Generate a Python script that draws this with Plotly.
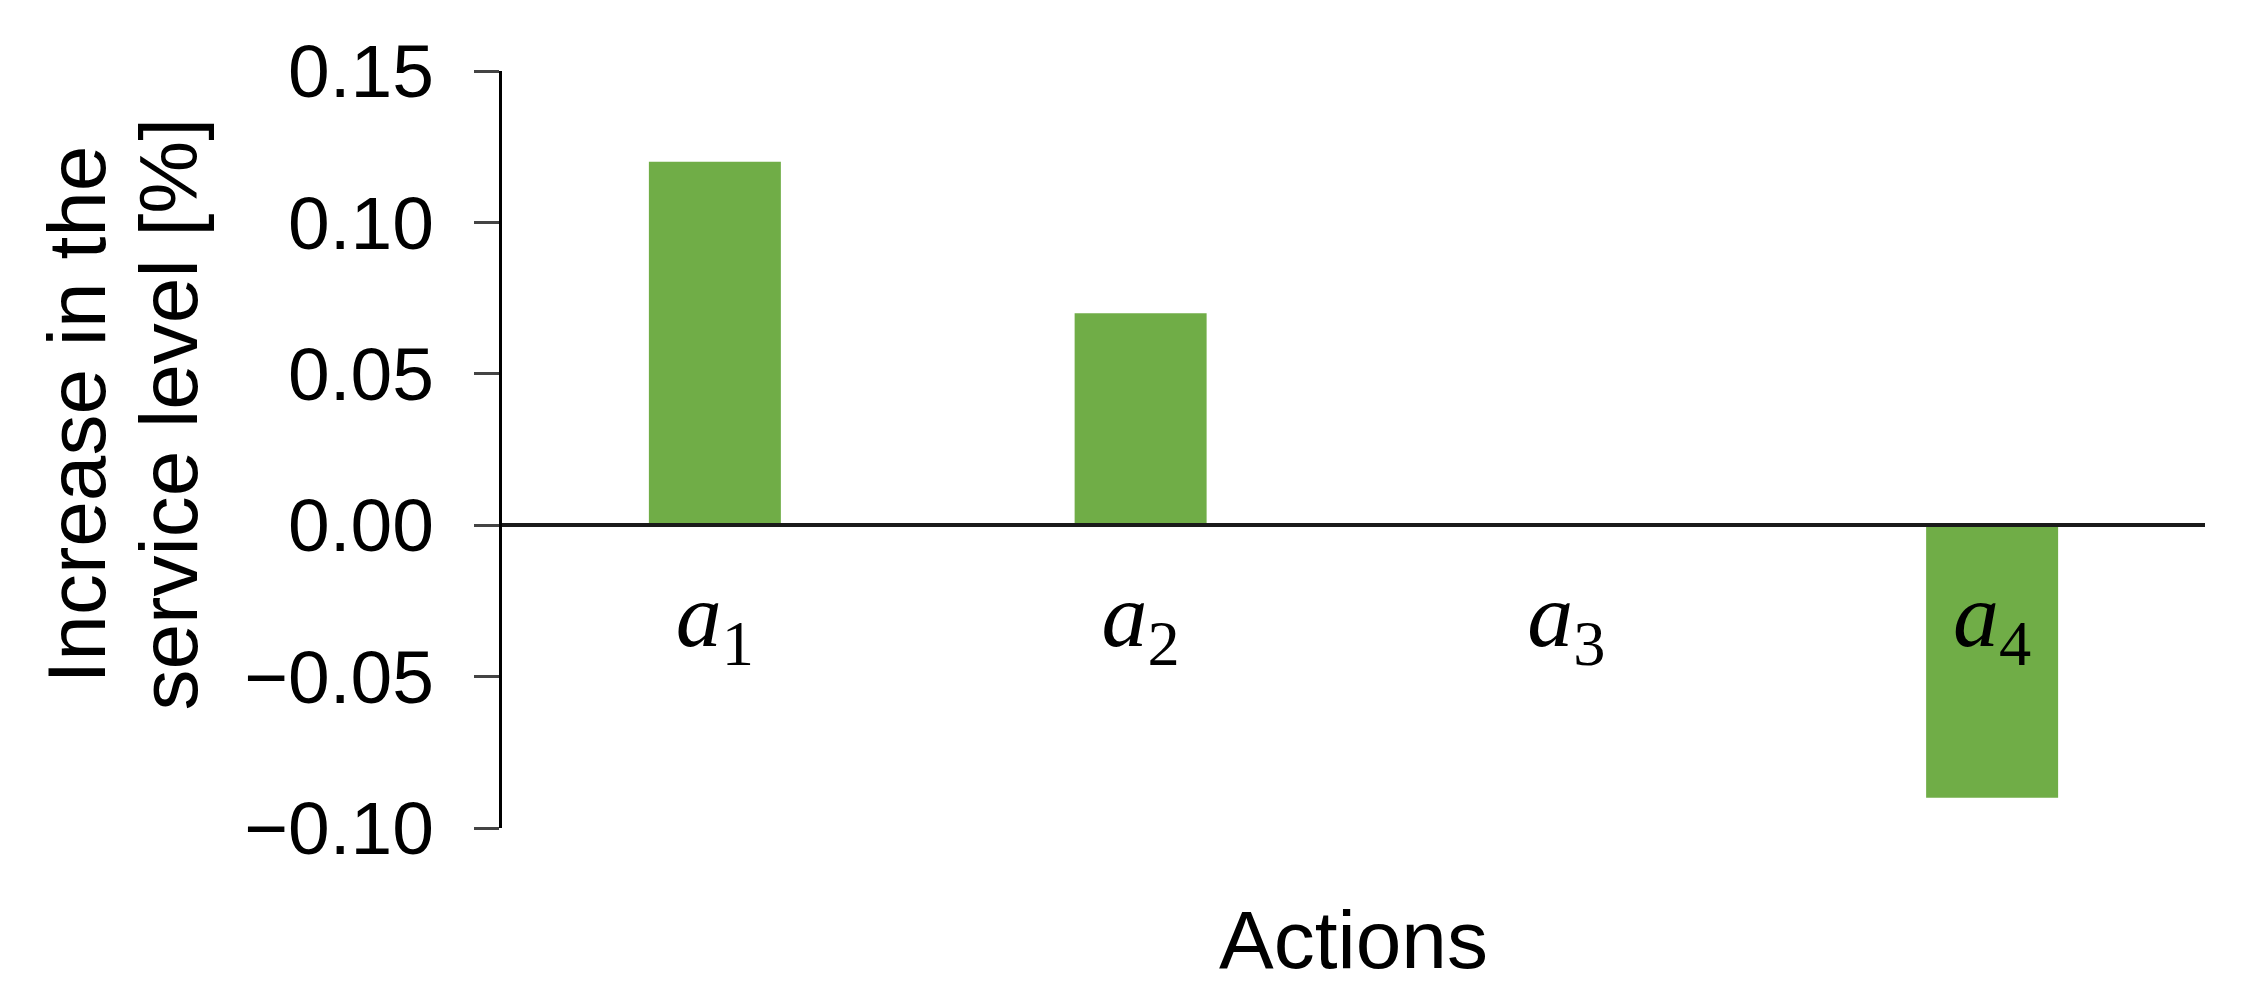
import plotly.graph_objects as go

categories = ["a1", "a2", "a3", "a4"]
tick_text = ["<i>a</i><sub>1</sub>", "<i>a</i><sub>2</sub>", "<i>a</i><sub>3</sub>", "<i>a</i><sub>4</sub>"]
values = [0.12, 0.07, 0.0, -0.09]
y_ticks = [-0.10, -0.05, 0.00, 0.05, 0.10, 0.15]
y_range = [-0.10, 0.15]

zero_pos = (0 - y_range[0]) / (y_range[1] - y_range[0])

fig = go.Figure(go.Bar(x=categories, y=values, marker=dict(color="#70AD47", line=dict(width=0))))

fig.update_layout(
    width=2250, height=1004,
    margin=dict(l=502, r=45, t=71, b=176),
    plot_bgcolor="white", paper_bgcolor="white",
    bargap=0.69, showlegend=False,
    font=dict(family="Liberation Sans, Arial", color="black"),
)
fig.update_xaxes(
    type="category", anchor="free", position=zero_pos,
    showline=True, linecolor="#1a1a1a", linewidth=4,
    ticks="", showgrid=False, zeroline=False,
    tickvals=categories, ticktext=tick_text,
    tickfont=dict(family="Liberation Serif, DejaVu Serif", size=92, color="black"),
    ticklabelstandoff=8,
)
fig.update_yaxes(
    range=y_range, tickvals=y_ticks, tickformat=".2f",
    showline=True, linecolor="black", linewidth=3,
    ticks="outside", ticklen=25, tickwidth=3, tickcolor="#444",
    showgrid=False, zeroline=False,
    tickfont=dict(size=75, color="black"),
    ticklabelstandoff=25,
)
fig.add_annotation(text="Increase in the", xref="paper", yref="paper", x=0, y=0.5,
                   xshift=-426, yshift=35, textangle=-90, showarrow=False,
                   xanchor="center", yanchor="middle", font=dict(size=82))
fig.add_annotation(text="service level [%]", xref="paper", yref="paper", x=0, y=0.5,
                   xshift=-334, yshift=35, textangle=-90, showarrow=False,
                   xanchor="center", yanchor="middle", font=dict(size=82))
fig.add_annotation(text="Actions", xref="paper", yref="paper", x=0.5, y=0,
                   yshift=-111, showarrow=False, xanchor="center", yanchor="middle",
                   font=dict(size=82))

fig.write_html("out.html", config={"displayModeBar": False},
               post_script="document.body.style.margin='0';")
